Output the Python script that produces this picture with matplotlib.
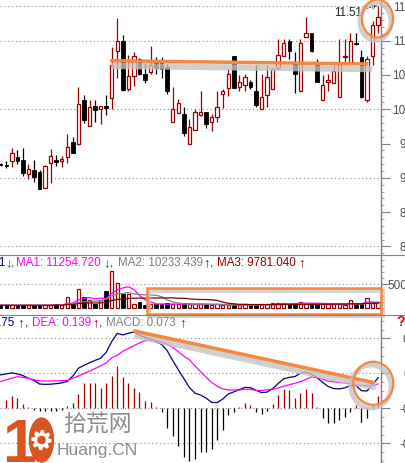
import matplotlib.pyplot as plt
import matplotlib.patches as mpatches
import numpy as np
import pandas as pd

plt.rcParams['font.family'] = ['Liberation Sans', 'DejaVu Sans']

W, H = 405, 463
RED = '#990000'
ORANGE = '#f5883c'
GRIDC = '#8a8a8a'
LOGO = '#d9541e'

# --- daily candles ---
opens = [9.20, 9.19, 9.25, 9.30, 9.26, 9.05, 9.115, 9.09, 8.85, 9.22,
         9.26, 9.25, 9.30, 9.53, 9.49, 10.14, 9.76, 10.05, 10.00, 10.05,
         10.16, 10.85, 10.99, 10.29, 10.49, 10.73, 10.51, 10.55, 10.68, 10.68,
         10.62, 9.82, 9.95, 9.93, 9.49, 9.70, 9.91, 9.96, 9.82, 9.89,
         10.22, 10.31, 10.77, 10.32, 10.36, 10.40, 10.27, 10.01, 10.21, 10.29,
         10.60, 10.77, 11.00, 10.69, 10.26, 11.05, 11.11, 10.65, 10.13, 10.40,
         10.39, 10.18, 10.76, 10.68, 10.97, 10.76, 10.14, 10.78, 11.23]
closes = [9.19, 9.17, 9.36, 9.25, 9.07, 9.125, 9.02, 8.84, 9.17, 9.32,
          9.23, 9.275, 9.45, 9.37, 10.07, 9.84, 10.04, 9.99, 10.05, 10.02,
          10.65, 11.00, 10.28, 10.49, 10.77, 10.51, 10.42, 10.65, 10.60, 10.58,
          10.26, 10.00, 10.09, 9.66, 9.74, 9.96, 9.96, 9.79, 9.89, 10.03,
          10.26, 10.51, 10.31, 10.40, 10.47, 10.32, 10.06, 10.18, 10.47, 10.58,
          10.79, 10.97, 10.85, 10.51, 10.96, 11.11, 10.85, 10.40, 10.36, 10.43,
          10.56, 10.69, 10.78, 10.99, 10.95, 10.18, 10.74, 11.23, 11.35]
highs = [9.21, 9.24, 9.43, 9.41, 9.43, 9.20, 9.26, 9.12, 9.19, 9.42,
         9.34, 9.32, 9.64, 9.60, 10.32, 10.21, 10.14, 10.14, 10.05, 10.21,
         10.91, 11.33, 11.09, 10.79, 10.83, 10.75, 10.67, 10.92, 10.76, 10.76,
         10.66, 10.32, 10.15, 10.04, 9.86, 10.00, 10.27, 9.96, 9.93, 10.27,
         10.29, 10.58, 10.77, 10.50, 10.51, 10.43, 10.65, 10.51, 10.65, 10.60,
         11.02, 11.02, 11.02, 10.84, 11.02, 11.34, 11.11, 10.73, 10.50, 10.51,
         10.65, 11.02, 11.02, 11.11, 11.11, 10.87, 10.77, 11.28, 11.51]
lows = [9.17, 9.14, 9.155, 9.20, 9.03, 8.98, 8.94, 8.84, 8.85, 8.93,
        9.18, 9.16, 9.22, 9.36, 9.48, 9.80, 9.76, 9.82, 9.79, 9.91,
        10.00, 10.45, 10.26, 10.26, 10.34, 10.50, 10.39, 10.51, 10.51, 10.46,
        10.22, 9.82, 9.95, 9.61, 9.49, 9.70, 9.90, 9.72, 9.69, 9.82,
        10.02, 10.20, 10.31, 10.27, 10.27, 10.29, 10.04, 10.01, 10.04, 10.29,
        10.59, 10.77, 10.74, 10.24, 10.26, 11.05, 10.83, 10.40, 10.13, 10.27,
        10.39, 10.18, 10.65, 10.68, 10.94, 10.17, 10.11, 10.65, 11.11]

# --- volume ---
volume = [6250, 6250, 6250, 6250, 6250, 6250, 6250, 6250, 6250, 6250,
          8330, 6250, 24370, 8330, 39580, 22910, 17290, 8330, 17290, 36040,
          77700, 52080, 29160, 29160, 8330, 13960, 6870, 8330, 8330, 8330,
          10420, 8330, 8330, 10420, 8330, 8330, 8330, 8330, 6250, 8330,
          6250, 6250, 6250, 6250, 8330, 6250, 6250, 8330, 8330, 10420,
          10420, 10420, 8330, 10420, 12500, 10420, 10420, 8330, 8330, 8330,
          8330, 8330, 6250, 17290, 8330, 8330, 22290, 10420, 12500]

# --- MACD ---
dif = [0.191, 0.197, 0.202, 0.197, 0.187, 0.172, 0.159, 0.139, 0.137, 0.138,
       0.141, 0.145, 0.154, 0.185, 0.229, 0.246, 0.260, 0.274, 0.286, 0.320,
       0.381, 0.428, 0.419, 0.429, 0.436, 0.417, 0.406, 0.395, 0.380, 0.365,
       0.329, 0.273, 0.220, 0.170, 0.119, 0.087, 0.076, 0.059, 0.034, 0.033,
       0.053, 0.082, 0.094, 0.107, 0.120, 0.118, 0.103, 0.090, 0.093, 0.113,
       0.142, 0.169, 0.177, 0.181, 0.201, 0.208, 0.195, 0.176, 0.148, 0.125,
       0.113, 0.111, 0.117, 0.130, 0.131, 0.101, 0.099, 0.136, 0.175]
dea = [0.153, 0.163, 0.172, 0.181, 0.177, 0.171, 0.163, 0.157, 0.156, 0.157,
       0.157, 0.158, 0.159, 0.172, 0.185, 0.199, 0.213, 0.227, 0.243, 0.259,
       0.289, 0.303, 0.326, 0.342, 0.358, 0.374, 0.386, 0.389, 0.387, 0.379,
       0.365, 0.348, 0.323, 0.298, 0.278, 0.242, 0.210, 0.178, 0.148, 0.126,
       0.111, 0.105, 0.105, 0.105, 0.109, 0.108, 0.102, 0.102, 0.106, 0.109,
       0.116, 0.127, 0.135, 0.143, 0.152, 0.165, 0.180, 0.175, 0.167, 0.156,
       0.152, 0.148, 0.145, 0.141, 0.135, 0.131, 0.130, 0.132, 0.139]
macd = [0.0, 0.050, 0.070, 0.060, 0.025, 0.005, -0.012, -0.015, -0.015, -0.015,
        -0.015, -0.010, 0.012, 0.030, 0.080, 0.143, 0.143, 0.143, 0.118, 0.143,
        0.187, 0.242, 0.181, 0.147, 0.118, 0.091, 0.042, 0.034, 0.006, -0.019,
        -0.110, -0.160, -0.215, -0.280, -0.300, -0.290, -0.248, -0.248, -0.230, -0.181,
        -0.124, -0.040, -0.020, 0.006, 0.029, 0.019, -0.023, -0.032, -0.015, 0.023,
        0.076, 0.110, 0.105, 0.061, 0.086, 0.110, 0.086, 0.010, -0.057, -0.086,
        -0.086, -0.067, -0.048, -0.019, 0.019, -0.076, -0.057, 0.019, 0.073]

price_ticks = [8.0, 8.5, 9.0, 9.5, 10.0, 10.5, 11.0, 11.5]
price_grid = [8.0, 9.0, 10.0, 11.0, 11.5]
vol_ticks = [50000]
macd_ticks = [0.4, 0.2, 0.0, -0.2]
macd_labels = ['0.40', '0.20', '-0.00', '-0.20']

n = len(opens)
idx = np.arange(n)
o = np.array(opens)
c = np.array(closes)
up = c >= o
vol_ma = pd.Series(volume)

fig = plt.figure(figsize=(W / 100, H / 100), dpi=100)


def panel(top, bottom, label_right):
    ax = fig.add_axes([0, 1 - bottom / H, 381 / W, (bottom - top) / H])
    ax.set_xlim(-0.13, 68.52)
    ax.set_xticks([])
    for s in ['top', 'left', 'bottom']:
        ax.spines[s].set_visible(False)
    ax.spines['right'].set_color('#808080')
    ax.spines['right'].set_linewidth(1)
    ax.yaxis.tick_right()
    # labels are right-aligned and run past the figure edge, like the original
    pad = (label_right - 381 - 9) * 0.72
    ax.tick_params(axis='y', which='major', length=6.5, width=0.8, color='#808080',
                   pad=pad, labelsize=8.5, labelcolor='#505050')
    ax.tick_params(axis='y', which='minor', length=2, width=0.6, color='#909090')
    return ax


def finish_labels(ax):
    for lbl in ax.get_yticklabels():
        lbl.set_horizontalalignment('right')


def dotted(ax, vals):
    for v in vals:
        ax.axhline(v, color=GRIDC, lw=0.8, ls=(0, (1, 2.5)), zorder=0)


# --- price panel ---
ax1 = panel(0, 255, 422)
ax1.set_ylim(7.876, 11.593)
ax1.set_yticks(price_ticks)
ax1.set_yticklabels(['%.2f' % v for v in price_ticks])
ax1.set_yticks(np.arange(7.9, 11.6, 0.1), minor=True)
finish_labels(ax1)
dotted(ax1, price_grid)

wick_col = np.where(up, RED, 'black')
ax1.vlines(idx, lows, highs, colors=wick_col, lw=0.9, zorder=2)
body_lo = np.minimum(o, c)
body_h = np.maximum(np.abs(c - o), 0.012)
ax1.bar(idx[up], body_h[up], bottom=body_lo[up], width=0.62,
        facecolor='white', edgecolor=RED, lw=0.9, zorder=3)
ax1.bar(idx[~up], body_h[~up], bottom=body_lo[~up], width=0.62,
        facecolor='black', edgecolor='black', lw=0.6, zorder=3)

# trend line on price with soft shadow
ax1.plot([19.9, 66.9], [10.708 - 0.075, 10.66 - 0.075], color='#c4c4c4', lw=4.5,
         alpha=0.8, solid_capstyle='butt', zorder=4)
ax1.plot([19.7, 66.2], [10.708, 10.66], color=ORANGE, lw=2.5,
         solid_capstyle='butt', zorder=5)
ax1.annotate('11.51', xy=(67.9, 11.51), xytext=(333 / 5.55, 11.40),
             fontsize=8.3, color='#202020', va='center', ha='left',
             arrowprops=dict(arrowstyle='->', color='#303030', lw=0.7, ls=':',
                             shrinkA=0, shrinkB=0))

# --- volume panel ---
ax2 = panel(255, 315, 421)
ax2.set_ylim(-13960, 111000)
ax2.set_yticks(vol_ticks)
ax2.set_yticklabels([str(t) for t in vol_ticks])
ax2.set_yticks(np.arange(0, 110000, 12500), minor=True)
finish_labels(ax2)
dotted(ax2, vol_ticks)
v = np.array(volume)
ax2.bar(idx[up], v[up], width=0.62, facecolor='white', edgecolor=RED, lw=0.9, zorder=3)
ax2.bar(idx[~up], v[~up], width=0.62, facecolor='black', edgecolor='black', lw=0.6, zorder=3)
ax2.plot(idx, vol_ma.rolling(5, min_periods=1).mean(), color='#ff00ff', lw=0.9, zorder=4)
ax2.plot(idx, vol_ma.rolling(10, min_periods=1).mean(), color='#808080', lw=0.9, zorder=4)
ax2.plot(idx, vol_ma.rolling(20, min_periods=1).mean(), color='#800000', lw=0.9, zorder=4)

# --- MACD panel ---
ax3 = panel(315, 463, 426)
ax3.set_ylim(-0.312, 0.533)
ax3.set_yticks(macd_ticks)
ax3.set_yticklabels(macd_labels)
ax3.set_yticks(np.arange(-0.3, 0.55, 0.05), minor=True)
finish_labels(ax3)
dotted(ax3, macd_ticks)
m = np.array(macd)
ax3.vlines(idx, 0, m, colors=np.where(m >= 0, RED, 'black'), lw=0.9, zorder=2)
ax3.plot(idx, dif, color='#000080', lw=0.9, zorder=3)
ax3.plot(idx, dea, color='#ff00ff', lw=0.9, zorder=3)
ax3.plot([24.1, 67.6], [0.443 - 0.026, 0.146 - 0.026], color='#c4c4c4', lw=4.5,
         alpha=0.8, solid_capstyle='butt', zorder=4)
ax3.plot([23.9, 67.4], [0.443, 0.146], color=ORANGE, lw=2.5,
         solid_capstyle='butt', zorder=5)

# --- overlay in pixel space: separators, circles, box, labels, logo ---
ov = fig.add_axes([0, 0, 1, 1])
ov.set_xlim(0, W)
ov.set_ylim(H, 0)
ov.axis('off')
ov.patch.set_alpha(0)

for yy in (255, 315):
    ov.plot([0, W], [yy, yy], color='#808080', lw=0.8)

ov.add_patch(mpatches.Ellipse((375.5, 21.5), 31, 38, fill=False, ec='#c4c4c4', lw=3.5, alpha=0.8))
ov.add_patch(mpatches.Ellipse((377.5, 18.5), 31, 38, fill=False, ec=ORANGE, lw=1.6))
ov.add_patch(mpatches.Ellipse((371, 386.5), 40, 43, fill=False, ec='#c4c4c4', lw=3.5, alpha=0.8))
ov.add_patch(mpatches.Ellipse((373.3, 383.3), 40, 43, fill=False, ec=ORANGE, lw=1.6))
ov.add_patch(mpatches.Rectangle((149, 290.5), 234, 25.7, fill=False, ec='#c4c4c4', lw=3, alpha=0.7))
ov.add_patch(mpatches.Rectangle((146.7, 288.3), 234, 25.7, fill=False, ec=ORANGE, lw=1.8))

fs = 8.4
afs = 9.5
ov.text(5.5, 263, 'VOL: 13540.791', color='#000080', fontsize=fs, ha='right', va='center')
ov.text(5.0, 263, '\u2193', color='#008000', fontsize=afs, va='center')
ov.text(10.5, 263, ',', color='#202020', fontsize=fs, va='center')
ov.text(16.5, 263, 'MA1: 11254.720', color='#ff00ff', fontsize=fs, va='center')
ov.text(103.5, 263, '\u2193', color='#008000', fontsize=afs, va='center')
ov.text(109.5, 263, ',', color='#202020', fontsize=fs, va='center')
ov.text(118, 263, 'MA2: 10233.439', color='#808080', fontsize=fs, va='center')
ov.text(203.5, 263, '\u2191', color=RED, fontsize=afs, va='center')
ov.text(209.5, 263, ',', color='#202020', fontsize=fs, va='center')
ov.text(217, 263, 'MA3: 9781.040', color=RED, fontsize=fs, va='center')
ov.text(298, 263, '\u2191', color=RED, fontsize=afs, va='center')

ov.text(14.5, 323, 'DIF: 0.175', color='#000080', fontsize=fs, ha='right', va='center')
ov.text(17, 323, '\u2191', color=RED, fontsize=afs, va='center')
ov.text(24.5, 323, ',', color='#202020', fontsize=fs, va='center')
ov.text(31.5, 323, 'DEA: 0.139', color='#ff00ff', fontsize=fs, va='center')
ov.text(92.5, 323, '\u2191', color=RED, fontsize=afs, va='center')
ov.text(99, 323, ',', color='#202020', fontsize=fs, va='center')
ov.text(106.5, 323, 'MACD: 0.073', color='#808080', fontsize=fs, va='center')
ov.text(179, 323, '\u2191', color=RED, fontsize=afs, va='center')
ov.text(396, 322, '?', color='#e00000', fontsize=10, fontweight='bold', va='center')

# logo: "1" plus a gear shaped "0"
ov.text(2, 462, '1', color=LOGO, fontsize=44, fontweight='bold', va='baseline')
ov.add_patch(mpatches.Ellipse((41.5, 440), 24, 44, color=LOGO))
ang = np.linspace(0, 2 * np.pi, 33)[:-1]
rad = np.where((np.arange(32) // 2) % 2 == 0, 9.5, 6.5)
ov.add_patch(mpatches.Polygon(np.c_[41.5 + rad * np.cos(ang), 440 + rad * np.sin(ang)],
                              closed=True, color='white'))
ov.add_patch(mpatches.Circle((41.5, 440), 3.6, color=LOGO))
ov.text(63, 424, '拾荒网', color='#8c8c8c', fontsize=16.5, va='center',
        family=['Noto Sans CJK SC', 'DejaVu Sans'])
ov.text(57, 455, 'Huang.CN', color='#8c8c8c', fontsize=12.5, va='baseline',
        family=['Liberation Sans Narrow', 'Liberation Sans', 'DejaVu Sans'])

fig.savefig('out.png', dpi=100)
